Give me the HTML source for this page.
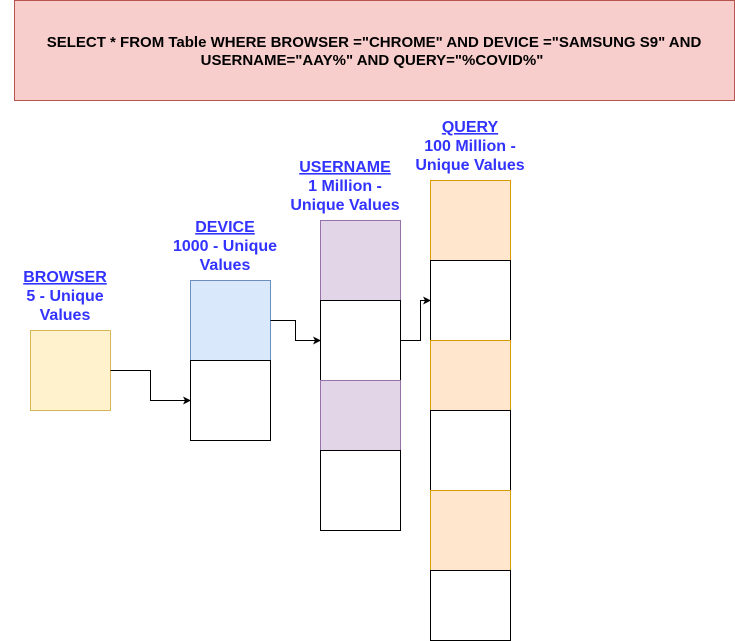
<!DOCTYPE html>
<html><head><meta charset="utf-8"><style>
html,body{margin:0;padding:0;background:#fff;width:735px;height:641px;overflow:hidden}
text{font-family:"Liberation Sans",Arial,sans-serif;font-weight:bold;font-size:16px;text-anchor:middle}
.h{font-size:15px}
.l{fill:#3333ff}
</style></head><body>
<svg width="735" height="641" xmlns="http://www.w3.org/2000/svg">
<defs><marker id="a" markerWidth="8" markerHeight="8" refX="7" refY="4" orient="auto" markerUnits="userSpaceOnUse"><path d="M0,0 L8,4 L0,8 L2,4 Z" fill="#000"/></marker></defs>
<rect x="14.5" y="0.5" width="720" height="100" fill="#f8cecc" stroke="#b85450"/>
<text class="h" x="374" y="47" fill="#000">SELECT * FROM Table WHERE BROWSER ="CHROME" AND DEVICE ="SAMSUNG S9" AND</text>
<text class="h" x="372" y="65" fill="#000">USERNAME="AAY%" AND QUERY="%COVID%"</text>

<rect x="30.5" y="330.5" width="80" height="80" fill="#fff2cc" stroke="#d6b656"/>
<rect x="190.5" y="280.5" width="80" height="80" fill="#dae8fc" stroke="#6c8ebf"/>
<rect x="190.5" y="360.5" width="80" height="80" fill="#fff" stroke="#000"/>

<rect x="320.5" y="220.5" width="80" height="80" fill="#e1d5e7" stroke="#9673a6"/>
<rect x="320.5" y="300.5" width="80" height="80" fill="#fff" stroke="#000"/>
<rect x="320.5" y="380.5" width="80" height="70" fill="#e1d5e7" stroke="#9673a6"/>
<rect x="320.5" y="450.5" width="80" height="80" fill="#fff" stroke="#000"/>

<rect x="430.5" y="180.5" width="80" height="80" fill="#ffe6cc" stroke="#d79b00"/>
<rect x="430.5" y="260.5" width="80" height="80" fill="#fff" stroke="#000"/>
<rect x="430.5" y="340.5" width="80" height="70" fill="#ffe6cc" stroke="#d79b00"/>
<rect x="430.5" y="410.5" width="80" height="80" fill="#fff" stroke="#000"/>
<rect x="430.5" y="490.5" width="80" height="80" fill="#ffe6cc" stroke="#d79b00"/>
<rect x="430.5" y="570.5" width="80" height="70" fill="#fff" stroke="#000"/>

<path d="M110.5,370.5 H150.5 V400.5 H190" fill="none" stroke="#000" marker-end="url(#a)"/>
<path d="M270.5,320.5 H295.5 V340.5 H320" fill="none" stroke="#000" marker-end="url(#a)"/>
<path d="M400.5,340.5 H420.5 V300.5 H430" fill="none" stroke="#000" marker-end="url(#a)"/>

<text class="l" x="65" y="282" text-decoration="underline">BROWSER</text>
<text class="l" x="65" y="301">5 - Unique</text>
<text class="l" x="65" y="320">Values</text>

<text class="l" x="225" y="232" text-decoration="underline">DEVICE</text>
<text class="l" x="225" y="251">1000 - Unique</text>
<text class="l" x="225" y="270">Values</text>

<text class="l" x="345" y="172" text-decoration="underline">USERNAME</text>
<text class="l" x="345" y="191">1 Million -</text>
<text class="l" x="345" y="210">Unique Values</text>

<text class="l" x="470" y="132" text-decoration="underline">QUERY</text>
<text class="l" x="470" y="151">100 Million -</text>
<text class="l" x="470" y="170">Unique Values</text>
</svg>
</body></html>
